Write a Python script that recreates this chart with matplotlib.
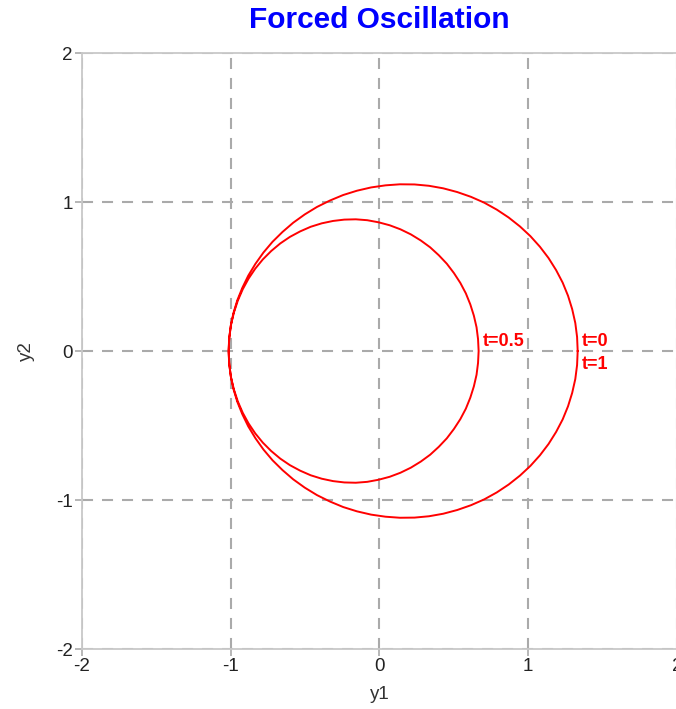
import matplotlib
matplotlib.use("Agg")
import matplotlib.pyplot as plt

plt.rcParams['font.family'] = ['Liberation Sans', 'DejaVu Sans']

# sampled trajectory (y1, y2) for t = 0 .. 1 in steps of 1/144
t = [k / 144 for k in range(145)]
y1 = [1.333, 1.329, 1.317, 1.296, 1.268, 1.232, 1.188, 1.137, 1.079, 1.015,
      0.945, 0.869, 0.789, 0.704, 0.615, 0.523, 0.429, 0.333, 0.236, 0.138,
      0.041, -0.056, -0.151, -0.244, -0.333, -0.420, -0.502, -0.580, -0.652,
      -0.719, -0.780, -0.834, -0.882, -0.922, -0.956, -0.982, -1.000, -1.011,
      -1.014, -1.009, -0.998, -0.978, -0.952, -0.919, -0.880, -0.835, -0.784,
      -0.728, -0.667, -0.602, -0.533, -0.462, -0.388, -0.312, -0.236, -0.159,
      -0.082, -0.006, 0.069, 0.141, 0.211, 0.278, 0.341, 0.399, 0.453, 0.501,
      0.544, 0.581, 0.611, 0.635, 0.653, 0.663, 0.667,
      0.663, 0.653, 0.635, 0.611, 0.581, 0.544, 0.501, 0.453, 0.399, 0.341,
      0.278, 0.211, 0.141, 0.069, -0.006, -0.082, -0.159, -0.236, -0.312,
      -0.388, -0.462, -0.533, -0.602, -0.667, -0.728, -0.784, -0.835, -0.880,
      -0.919, -0.952, -0.978, -0.998, -1.009, -1.014, -1.011, -1.000, -0.982,
      -0.956, -0.922, -0.882, -0.834, -0.780, -0.719, -0.652, -0.580, -0.502,
      -0.420, -0.333, -0.244, -0.151, -0.056, 0.041, 0.138, 0.236, 0.333,
      0.429, 0.523, 0.615, 0.704, 0.789, 0.869, 0.945, 1.015, 1.079, 1.137,
      1.188, 1.232, 1.268, 1.296, 1.317, 1.329, 1.333]
y2 = [0.000, -0.094, -0.188, -0.281, -0.371, -0.459, -0.543, -0.624, -0.700,
      -0.771, -0.836, -0.896, -0.949, -0.996, -1.035, -1.067, -1.092, -1.109,
      -1.118, -1.119, -1.112, -1.098, -1.076, -1.047, -1.010, -0.967, -0.917,
      -0.861, -0.799, -0.733, -0.661, -0.585, -0.506, -0.424, -0.340, -0.254,
      -0.167, -0.079, 0.008, 0.094, 0.178, 0.260, 0.339, 0.415, 0.486, 0.553,
      0.615, 0.671, 0.722, 0.766, 0.803, 0.834, 0.857, 0.873, 0.882, 0.884,
      0.878, 0.864, 0.844, 0.817, 0.783, 0.742, 0.696, 0.643, 0.586, 0.523,
      0.457, 0.387, 0.313, 0.237, 0.159, 0.080, 0.000,
      -0.080, -0.159, -0.237, -0.313, -0.387, -0.457, -0.523, -0.586, -0.643,
      -0.696, -0.742, -0.783, -0.817, -0.844, -0.864, -0.878, -0.884, -0.882,
      -0.873, -0.857, -0.834, -0.803, -0.766, -0.722, -0.671, -0.615, -0.553,
      -0.486, -0.415, -0.339, -0.260, -0.178, -0.094, -0.008, 0.079, 0.167,
      0.254, 0.340, 0.424, 0.506, 0.585, 0.661, 0.733, 0.799, 0.861, 0.917,
      0.967, 1.010, 1.047, 1.076, 1.098, 1.112, 1.119, 1.118, 1.109, 1.092,
      1.067, 1.035, 0.996, 0.949, 0.896, 0.836, 0.771, 0.700, 0.624, 0.543,
      0.459, 0.371, 0.281, 0.188, 0.094, 0.000]

# time markers along the curve
marks = ["t=0", "t=0.5", "t=1"]
mark_idx = [0, 72, 144]

ticks = [-2, -1, 0, 1, 2]

fig = plt.figure(figsize=(6.76, 7.09), dpi=100)
ax = fig.add_axes([0.1213, 0.0846, 0.880, 0.8406])

ax.plot(y1, y2, color='red', lw=1.4, zorder=3)

offsets = {"t=0": (3, 6.5), "t=0.5": (3, 6.5), "t=1": (3, -9.5)}
for lab, i in zip(marks, mark_idx):
    ax.annotate(lab, (y1[i], y2[i]), xytext=offsets[lab], textcoords='offset points',
                color='red', fontsize=13, fontweight='bold', va='center', ha='left')

ax.set_xlim(-2, 2)
ax.set_ylim(-2, 2)
ax.set_xticks(ticks)
ax.set_yticks(ticks)
ax.set_xticklabels([str(v) for v in ticks])
ax.set_yticklabels([str(v) for v in ticks])
ax.grid(True, color='#aaaaaa', linestyle=(0, (5.3, 4.3)), lw=1.5)
for s in ax.spines.values():
    s.set_color('#c8c8c8')
    s.set_linewidth(1.3)
ax.tick_params(direction='out', length=5, width=1.2, color='#aaaaaa', labelsize=13.5,
               labelcolor='#222222', pad=1.5)

ax.set_xlabel('y1', fontsize=13.5, color='#333333', labelpad=8)
ax.set_ylabel('y2', fontsize=13.5, color='#333333', labelpad=15)
ax.set_title('Forced Oscillation', color='blue', fontsize=21.5, fontweight='bold', pad=18)

fig.savefig('out.png', dpi=100)
